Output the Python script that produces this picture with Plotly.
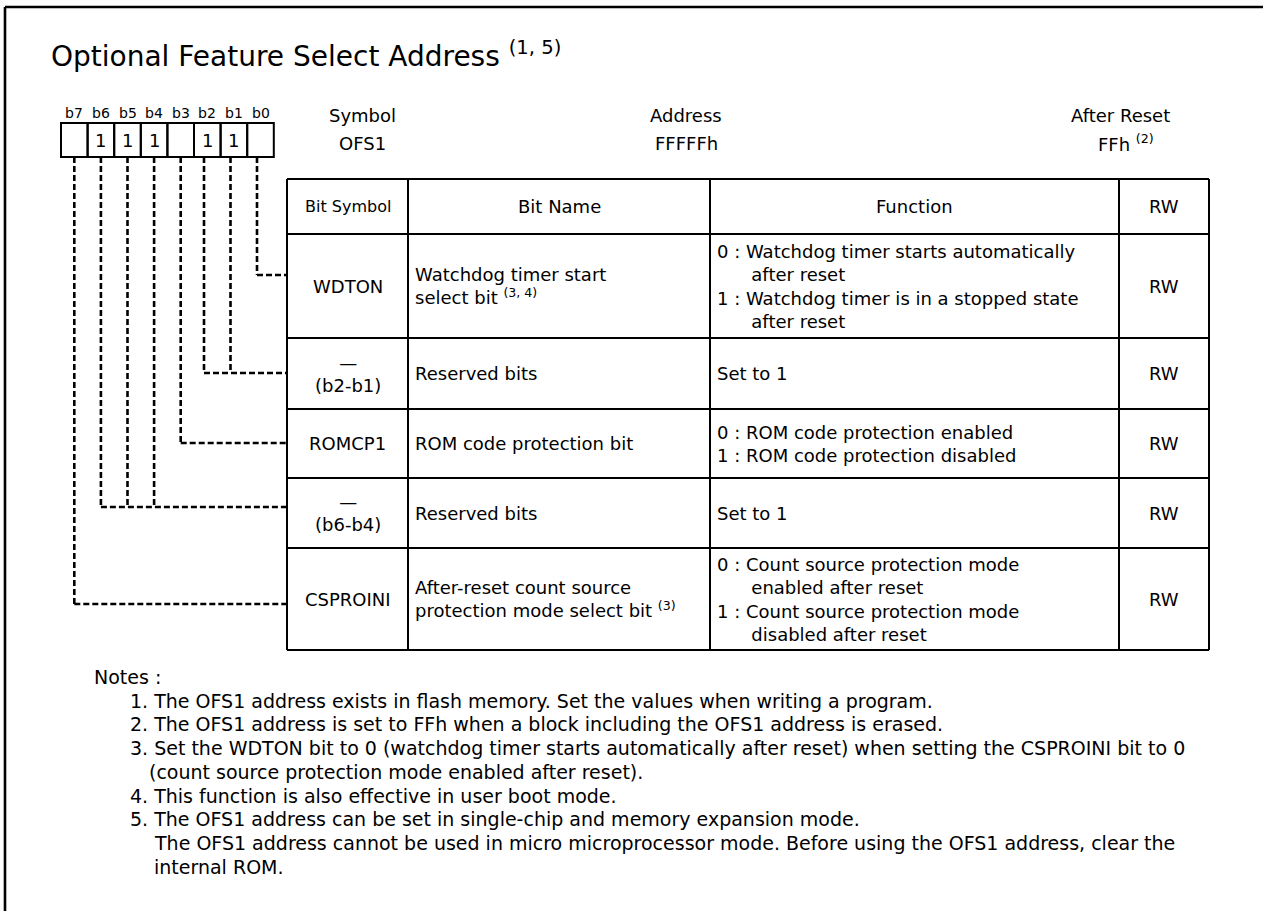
import plotly.graph_objects as go

W, H = 1263, 911
FONT = "DejaVu Sans"
NOTE_FONT = "DejaVu Sans"
BLACK = "#000000"

# ---------------- data ----------------
title_text = "Optional Feature Select Address"
title_refs = "(1, 5)"

bit_labels = ["b7", "b6", "b5", "b4", "b3", "b2", "b1", "b0"]
bit_values = ["", "1", "1", "1", "", "1", "1", ""]

reg_labels = ["Symbol", "Address", "After Reset"]
reg_values = ["OFS1", "FFFFFh", "FFh"]
reg_refs = ["", "", "(2)"]

col_headers = ["Bit Symbol", "Bit Name", "Function", "RW"]
row_symbols = ["WDTON", "—<br>(b2-b1)", "ROMCP1", "—<br>(b6-b4)", "CSPROINI"]
row_names = [
    "Watchdog timer start<br>select bit <sup>(3, 4)</sup>",
    "Reserved bits",
    "ROM code protection bit",
    "Reserved bits",
    "After-reset count source<br>protection mode select bit <sup>(3)</sup>",
]
IND = "\u00a0" * 6
row_functions = [
    "0 : Watchdog timer starts automatically<br>" + IND + "after reset<br>"
    "1 : Watchdog timer is in a stopped state<br>" + IND + "after reset",
    "Set to 1",
    "0 : ROM code protection enabled<br>1 : ROM code protection disabled",
    "Set to 1",
    "0 : Count source protection mode<br>" + IND + "enabled after reset<br>"
    "1 : Count source protection mode<br>" + IND + "disabled after reset",
]
row_rw = ["RW", "RW", "RW", "RW", "RW"]
row_bits = [[0], [2, 1], [3], [6, 5, 4], [7]]

notes_text = [
    "Notes :",
    "1. The OFS1 address exists in flash memory. Set the values when writing a program.",
    "2. The OFS1 address is set to FFh when a block including the OFS1 address is erased.",
    "3. Set the WDTON bit to 0 (watchdog timer starts automatically after reset) when setting the CSPROINI bit to 0",
    "(count source protection mode enabled after reset).",
    "4. This function is also effective in user boot mode.",
    "5. The OFS1 address can be set in single-chip and memory expansion mode.",
    "The OFS1 address cannot be used in micro microprocessor mode. Before using the OFS1 address, clear the",
    "internal ROM.",
]
notes_level = [0, 1, 1, 1, 2, 1, 1, 3, 3]

# ---------------- layout geometry ----------------
box_left, box_w, box_top, box_bot = 61, 26.6, 123, 157
col_x = [287, 408, 710, 1119, 1209]
row_y = [179, 234, 338, 409, 478, 548, 650]
conn_y = [275, 373, 443, 507, 604]
bit_line_shift = {0: -3.5, 1: -3.4, 2: -3.3}
reg_x = [362, 686, 1120]
reg_val_x = [362, 686, 1126]
note_indent = [92, 128, 147, 152]
note_y0, note_dy = 677, 23.7

fig = go.Figure()
shapes = []
ann = []


def line(x0, y0, x1, y1, width=2, dash="solid"):
    shapes.append(dict(type="line", xref="x", yref="y", x0=x0, y0=y0, x1=x1, y1=y1,
                       line=dict(color=BLACK, width=width, dash=dash)))


def text(x, y, s, size=18, xa="center", ya="middle", font=FONT):
    ann.append(dict(x=x, y=y, xref="x", yref="y", text=s, showarrow=False,
                    xanchor=xa, yanchor=ya, align="left" if xa == "left" else "center",
                    font=dict(family=font, size=size, color=BLACK)))


# frame
line(5, 7, 5, H, width=2.6)
line(5, 7, W, 7, width=2.6)

# title
text(49, 54, title_text + " <sup>" + title_refs + "</sup>", size=28, xa="left")

# bit boxes
for i, (lab, val) in enumerate(zip(bit_labels, bit_values)):
    x0 = box_left + i * box_w
    shapes.append(dict(type="rect", xref="x", yref="y", x0=x0, x1=x0 + box_w,
                       y0=box_top, y1=box_bot, line=dict(color=BLACK, width=2)))
    text(x0 + box_w / 2, 113, lab, size=14)
    if val:
        text(x0 + box_w / 2, 140, val, size=18)

# register header
for x, xv, lab, val, ref in zip(reg_x, reg_val_x, reg_labels, reg_values, reg_refs):
    text(x, 115, lab)
    text(xv, 143, val + (" <sup>" + ref + "</sup>" if ref else ""))

# table grid
for x in col_x:
    line(x, row_y[0], x, row_y[-1])
for y in row_y:
    line(col_x[0], y, col_x[-1], y)

# column headers
hy = (row_y[0] + row_y[1]) / 2
for j, h in enumerate(col_headers):
    text((col_x[j] + col_x[j + 1]) / 2, hy, h, size=16 if j == 0 else 18)

# rows
for r in range(len(row_symbols)):
    cy = (row_y[r + 1] + row_y[r + 2]) / 2
    text((col_x[0] + col_x[1]) / 2, cy, row_symbols[r])
    text(col_x[1] + 5, cy, row_names[r], xa="left")
    text(col_x[2] + 5, cy, row_functions[r], xa="left")
    text((col_x[3] + col_x[4]) / 2, cy, row_rw[r])

# dashed connectors from bits to rows
DASH = "6px,3px"
for r, bits in enumerate(row_bits):
    xs = []
    for b in bits:
        i = 7 - b
        x = box_left + (i + 0.5) * box_w + bit_line_shift.get(b, 0)
        xs.append(x)
        line(x, box_bot, x, conn_y[r], width=2.6, dash=DASH)
    line(min(xs), conn_y[r], col_x[0], conn_y[r], width=2.6, dash=DASH)

# notes
for k, (s, lv) in enumerate(zip(notes_text, notes_level)):
    text(note_indent[lv], note_y0 + k * note_dy, s, size=19, xa="left", font=NOTE_FONT)

fig.update_layout(
    width=W, height=H, margin=dict(l=0, r=0, t=0, b=0),
    paper_bgcolor="white", plot_bgcolor="white",
    xaxis=dict(range=[0, W], visible=False, fixedrange=True),
    yaxis=dict(range=[H, 0], visible=False, fixedrange=True),
    shapes=shapes, annotations=ann, showlegend=False,
)

fig.write_html("out.html", post_script="document.body.style.margin='0';",
               config={"displayModeBar": False})
